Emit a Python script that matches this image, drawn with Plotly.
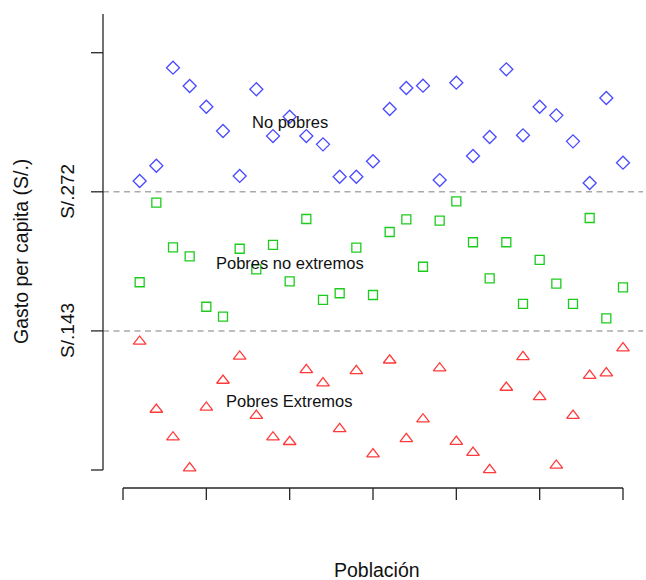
import plotly.graph_objects as go

# ---- data ----
poblacion = list(range(1, 31))
no_pobres = [282.0, 296.2, 387.1, 370.1, 350.9, 328.4, 286.7, 367.1, 323.7, 341.6,
             323.7, 316.0, 286.0, 286.0, 300.3, 348.8, 368.3, 370.4, 282.9, 373.2,
             305.2, 322.8, 385.6, 324.4, 350.9, 342.9, 318.8, 280.2, 359.0, 299.0]
pobres_no_extremos = [188.1, 261.9, 220.5, 212.2, 165.4, 156.2, 219.2, 200.1, 222.7, 189.0,
                      246.8, 171.7, 177.9, 220.2, 176.3, 234.7, 246.5, 202.5, 245.2, 263.2,
                      225.2, 191.8, 225.2, 168.0, 208.8, 186.8, 168.0, 247.7, 154.7, 183.4]
pobres_extremos = [133.2, 70.1, 44.4, 15.7, 72.0, 97.0, 119.3, 64.5, 44.4, 40.2,
                   106.9, 94.5, 52.2, 106.0, 28.7, 115.8, 42.9, 61.1, 108.4, 40.4,
                   30.2, 14.2, 90.5, 119.0, 81.9, 18.2, 64.5, 101.6, 103.8, 127.0]

lineas_corte = [143, 272]
y_ticks = [14, 143, 272, 401]
y_ticklabels = ["", "S/.143", "S/.272", ""]
x_ticks = [0, 5, 10, 15, 20, 25, 30]

etiquetas = ["No pobres", "Pobres no extremos", "Pobres Extremos"]
etiqueta_x = [10, 10, 10]
etiqueta_y = [337.0, 206.2, 78.0]

# ---- geometry ----
W, H = 646, 580
ML, MR, MT, MB = 103, 3, 14, 92
XR = [-1.2, 31.2]
YR = [-2.7, 436.9]
PW = W - ML - MR
PH = H - MT - MB

def xp(v):
    return (v - XR[0]) / (XR[1] - XR[0])

def yp(v):
    return (v - YR[0]) / (YR[1] - YR[0])

def px_x(p):
    return (p - ML) / PW

def px_y(p):
    return (H - MB - p) / PH

FONT = "Liberation Sans, Arial, Helvetica, sans-serif"
AX_COL = "#262626"

fig = go.Figure()
fig.add_trace(go.Scatter(x=poblacion, y=no_pobres, mode="markers",
                         marker=dict(symbol="diamond-open", size=10, color="#4a4aff",
                                     line=dict(width=1.3, color="#4a4aff")),
                         showlegend=False, cliponaxis=False))
fig.add_trace(go.Scatter(x=poblacion, y=pobres_no_extremos, mode="markers",
                         marker=dict(symbol="square-open", size=9, color="#1ccc1c",
                                     line=dict(width=1.3, color="#1ccc1c")),
                         showlegend=False, cliponaxis=False))
fig.add_trace(go.Scatter(x=poblacion, y=pobres_extremos, mode="markers",
                         marker=dict(symbol="triangle-up-open", size=11, color="#ff3a3a",
                                     line=dict(width=1.3, color="#ff3a3a")),
                         showlegend=False, cliponaxis=False))

shapes = []
for v in lineas_corte:
    shapes.append(dict(type="line", xref="paper", yref="paper", x0=0, x1=1,
                       y0=yp(v), y1=yp(v), layer="below",
                       line=dict(color="#aaaaaa", width=1.5, dash="6px,4.5px")))
# y axis
shapes.append(dict(type="line", xref="paper", yref="paper", x0=0, x1=0,
                   y0=yp(y_ticks[0]), y1=1, line=dict(color=AX_COL, width=1.3)))
for v in y_ticks:
    shapes.append(dict(type="line", xref="paper", yref="paper", x0=px_x(91), x1=0,
                       y0=yp(v), y1=yp(v), line=dict(color=AX_COL, width=1.3)))
# x axis
shapes.append(dict(type="line", xref="paper", yref="paper", x0=xp(x_ticks[0]), x1=xp(x_ticks[-1]),
                   y0=0, y1=0, line=dict(color=AX_COL, width=1.3)))
for v in x_ticks:
    shapes.append(dict(type="line", xref="paper", yref="paper", x0=xp(v), x1=xp(v),
                       y0=0, y1=px_y(500), line=dict(color=AX_COL, width=1.3)))

annotations = []
for v, t in zip(y_ticks, y_ticklabels):
    if t:
        annotations.append(dict(text=t, xref="paper", yref="paper", x=px_x(68), y=yp(v),
                                textangle=-90, showarrow=False, xanchor="center", yanchor="middle",
                                font=dict(family=FONT, size=19, color="#111")))
for t, x, y in zip(etiquetas, etiqueta_x, etiqueta_y):
    annotations.append(dict(text=t, x=x, y=y, xref="x", yref="y", showarrow=False,
                            xanchor="center", yanchor="middle",
                            font=dict(family=FONT, size=16.5, color="#111")))
annotations.append(dict(text="Población", xref="paper", yref="paper", x=px_x(377), y=px_y(570),
                        showarrow=False, xanchor="center", yanchor="middle",
                        font=dict(family=FONT, size=19.5, color="#111")))
annotations.append(dict(text="Gasto per capita (S/.)", xref="paper", yref="paper",
                        x=px_x(21), y=px_y(252), textangle=-90, showarrow=False,
                        xanchor="center", yanchor="middle",
                        font=dict(family=FONT, size=19.5, color="#111")))

fig.update_layout(
    width=W, height=H, autosize=False,
    margin=dict(l=ML, r=MR, t=MT, b=MB, pad=0),
    paper_bgcolor="white", plot_bgcolor="white",
    xaxis=dict(range=XR, showgrid=False, zeroline=False, showline=False,
               showticklabels=False, ticks="", fixedrange=True),
    yaxis=dict(range=YR, showgrid=False, zeroline=False, showline=False,
               showticklabels=False, ticks="", fixedrange=True),
    shapes=shapes, annotations=annotations,
    font=dict(family=FONT),
)
fig.write_html("out.html", config={"displayModeBar": False})
